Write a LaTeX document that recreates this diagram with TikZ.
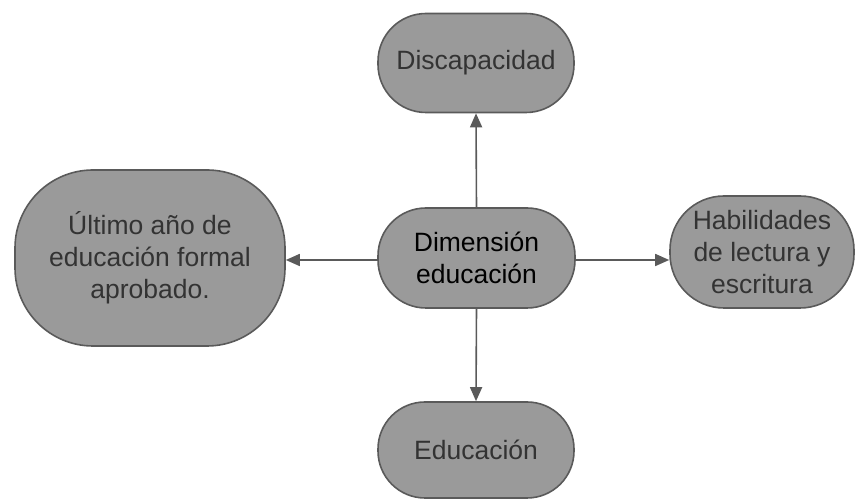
\documentclass[tikz,border=0pt]{standalone}
\usepackage{fontspec}
\setmainfont{Liberation Sans}
\usetikzlibrary{arrows.meta}
\definecolor{boxfill}{HTML}{9A9A9A}
\definecolor{boxline}{HTML}{5A5A5A}
\definecolor{txt}{HTML}{333333}
\begin{document}
\begin{tikzpicture}[x=1pt,y=1pt,
  box/.style={draw=boxline, line width=1.6pt, fill=boxfill, rectangle, inner sep=0pt,
    align=center, text=txt, font=\fontsize{26.5}{32}\selectfont},
  arr/.style={draw=boxline, line width=1.6pt, -{Triangle[length=14pt,width=12pt]}}]
\useasboundingbox (0,0) rectangle (855,500);
\node[box, minimum width=196pt, minimum height=99pt, rounded corners=48pt] (disc) at (476,437) {Discapacidad};
\node[box, minimum width=197pt, minimum height=100pt, rounded corners=48pt, text=black] (dim) at (476.5,242) {Dimensión\\educación};
\node[box, minimum width=196pt, minimum height=96pt, rounded corners=47pt] (edu) at (476,50) {Educación};
\node[box, minimum width=270pt, minimum height=176pt, rounded corners=78pt] (left) at (150,242) {Último año de\\educación formal\\aprobado.};
\node[box, minimum width=184pt, minimum height=112pt, rounded corners=54pt] (right) at (762,248) {Habilidades\\de lectura y\\escritura};
\draw[arr] (dim.north) -- (disc.south);
\draw[arr] (dim.south) -- (edu.north);
\draw[arr] ([yshift=-2pt]dim.west) -- ([yshift=-2pt]dim.west -| left.east);
\draw[arr] ([yshift=-2pt]dim.east) -- ([yshift=-2pt]dim.east -| right.west);
\end{tikzpicture}
\end{document}
